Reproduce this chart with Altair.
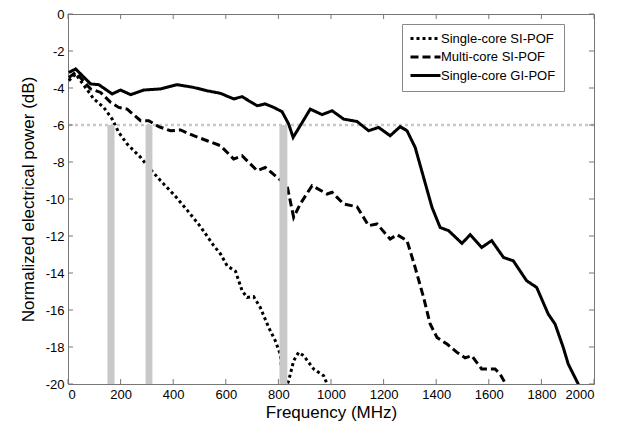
import altair as alt
import pandas as pd

series_names = ["Single-core SI-POF", "Multi-core SI-POF", "Single-core GI-POF"]

freq_single_si = [3, 29, 98, 136, 168, 193, 225, 276, 307, 352, 405, 453, 504, 554, 580, 605, 637,
                  662, 681, 706, 731, 763, 788, 807, 820, 839, 858, 877, 896, 934, 972, 985, 992]
db_single_si = [-3.6, -3.24, -4.59, -5.05, -5.68, -6.4, -7.03, -7.75, -8.29, -9.01, -9.8, -10.6,
                -11.5, -12.52, -12.97, -13.61, -13.91, -14.96, -15.32, -15.28, -15.86, -16.94,
                -17.66, -18.38, -20.5, -19.82, -18.74, -18.29, -18.47, -19.19, -19.55, -20.0, -20.3]

freq_multi_si = [3, 29, 86, 124, 162, 193, 225, 276, 307, 345, 390, 428, 478, 529, 580, 630, 662,
                 719, 750, 795, 833, 858, 883, 928, 985, 1004, 1048, 1099, 1143, 1175, 1225, 1251,
                 1289, 1320, 1352, 1377, 1403, 1441, 1479, 1510, 1535, 1573, 1624, 1643, 1668]
db_multi_si = [-3.43, -3.16, -4.05, -4.24, -4.78, -5.05, -5.14, -5.77, -5.77, -6.09, -6.31, -6.27,
               -6.58, -6.85, -7.12, -7.84, -7.66, -8.47, -8.29, -8.83, -9.28, -10.99, -10.27, -9.28,
               -9.73, -9.64, -10.27, -10.42, -11.44, -11.35, -12.16, -11.93, -12.25, -13.7, -15.32,
               -16.76, -17.48, -17.84, -18.29, -18.59, -18.47, -19.19, -19.19, -19.46, -20.1]

freq_single_gi = [3, 29, 86, 117, 168, 200, 238, 288, 352, 415, 478, 529, 580, 630, 662, 719, 750,
                  782, 814, 839, 856, 883, 921, 966, 1004, 1048, 1099, 1143, 1181, 1225, 1263, 1289,
                  1320, 1352, 1384, 1415, 1447, 1498, 1529, 1573, 1611, 1656, 1693, 1744, 1782,
                  1826, 1852, 1883, 1902, 1940, 1950]
db_single_gi = [-3.16, -2.97, -3.78, -3.82, -4.32, -4.11, -4.36, -4.11, -4.05, -3.82, -3.97, -4.15,
                -4.29, -4.59, -4.47, -4.96, -4.86, -5.05, -5.28, -5.95, -6.67, -6.04, -5.14, -5.44,
                -5.23, -5.68, -5.81, -6.31, -6.13, -6.58, -6.09, -6.31, -7.21, -8.83, -10.45,
                -11.54, -11.71, -12.4, -11.93, -12.62, -12.25, -13.16, -13.34, -14.42, -14.78,
                -16.22, -16.76, -18.02, -18.92, -20.0, -20.5]

threshold_db = -6
bar_start = [150, 295, 804]
bar_end = [177, 321, 834]

x_ticks = list(range(0, 2001, 200))
y_ticks = list(range(-20, 1, 2))

rows = []
for name, fs, ds in zip(series_names,
                        [freq_single_si, freq_multi_si, freq_single_gi],
                        [db_single_si, db_multi_si, db_single_gi]):
    for i, (f, d) in enumerate(zip(fs, ds)):
        rows.append({"series": name, "f": f, "db": d, "order": i})
df = pd.DataFrame(rows)

bars_df = pd.DataFrame({"f": bar_start, "f2": bar_end, "db": [threshold_db] * 3, "db2": [-20] * 3})
thr_df = pd.DataFrame({"db": [threshold_db]})

FONT = "Liberation Sans"
xscale = alt.Scale(domain=[0, 2000], nice=False, zero=False)
yscale = alt.Scale(domain=[-20, 0], nice=False, zero=False)
x_axis = alt.Axis(values=x_ticks, title="Frequency (MHz)", labelExpr="'' + datum.value")
y_axis = alt.Axis(values=y_ticks, title="Normalized electrical power (dB)", labelExpr="'' + datum.value")


def X(field):
    return alt.X(field, type="quantitative", scale=xscale, axis=x_axis)


def Y(field):
    return alt.Y(field, type="quantitative", scale=yscale, axis=y_axis)


hline = alt.Chart(thr_df).mark_rule(color="#c8c8c8", strokeWidth=2.6, strokeDash=[3, 3]).encode(
    y=Y("db")
)

lines = alt.Chart(df).mark_line(clip=True, strokeWidth=3, color="black", strokeCap="butt").encode(
    x=X("f"),
    y=Y("db"),
    order="order:Q",
    strokeDash=alt.StrokeDash(
        "series:N",
        scale=alt.Scale(domain=series_names, range=[[3, 3], [8, 4], [1, 0]]),
        legend=alt.Legend(
            title=None, orient="none", legendX=334, legendY=10,
            symbolType="M-3,0H3", symbolFillColor="transparent",
            symbolStrokeColor="black", symbolStrokeWidth=3,
            symbolSize=100, symbolOffset=9, labelOffset=9,
            labelFont=FONT, labelFontSize=13, labelColor="black",
            strokeColor="#888", fillColor="white", padding=8, rowPadding=4.5,
        ),
    ),
)

bars = alt.Chart(bars_df).mark_rect(color="#c8c8c8").encode(
    x=X("f"), x2="f2", y=Y("db"), y2="db2"
)

# inward tick marks on all four sides
xt = pd.DataFrame({"f": x_ticks})
yt = pd.DataFrame({"db": y_ticks})
tick_color = "#777"
ticks_bottom = alt.Chart(xt).mark_rule(color=tick_color).encode(
    x=X("f"), y=alt.YDatum(-20, scale=yscale, axis=y_axis), y2=alt.Y2Datum(-19.73))
ticks_top = alt.Chart(xt).mark_rule(color=tick_color).encode(
    x=X("f"), y=alt.YDatum(0, scale=yscale, axis=y_axis), y2=alt.Y2Datum(-0.27))
ticks_left = alt.Chart(yt).mark_rule(color=tick_color).encode(
    y=Y("db"), x=alt.XDatum(0, scale=xscale, axis=x_axis), x2=alt.X2Datum(19))
ticks_right = alt.Chart(yt).mark_rule(color=tick_color).encode(
    y=Y("db"), x=alt.XDatum(2000, scale=xscale, axis=x_axis), x2=alt.X2Datum(1981))

chart = alt.layer(hline, lines, bars, ticks_bottom, ticks_top, ticks_left, ticks_right).properties(
    width=526, height=370,
    autosize=alt.AutoSizeParams(type="none"),
    padding={"left": 60, "top": 6, "right": 10, "bottom": 45},
).configure_view(
    stroke="#777", strokeWidth=1
).configure_axis(
    domain=False, ticks=False, grid=False,
    labelFont=FONT, labelFontSize=13, labelColor="black", labelPadding=4,
    titleFont=FONT, titleFontSize=17, titleFontWeight="normal", titleColor="black",
).configure_axisX(titlePadding=3).configure_axisY(titlePadding=8)

chart.save("out.html", embed_options={"renderer": "svg", "actions": False})
